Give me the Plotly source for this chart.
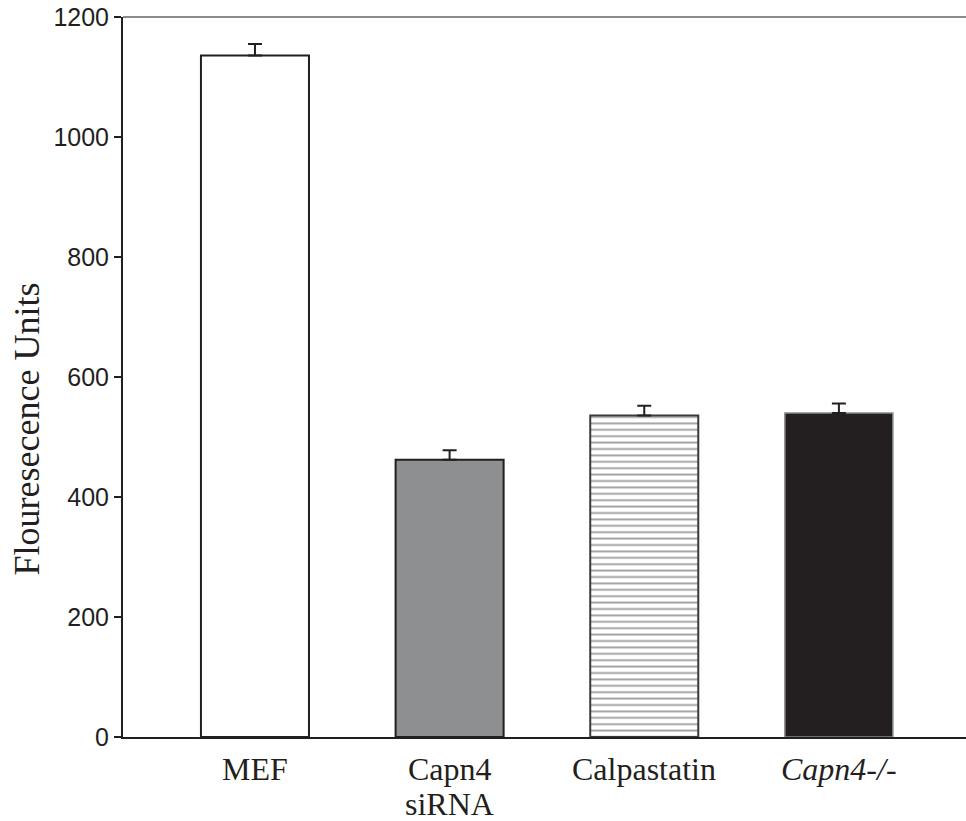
import plotly.graph_objects as go

categories = ["MEF", "Capn4 siRNA", "Calpastatin", "Capn4-/-"]
label_lines = [["MEF"], ["Capn4", "siRNA"], ["Calpastatin"], ["<i>Capn4-/-</i>"]]
values = [1136, 462, 536, 540]
errors = [19, 16, 16, 16]
y_ticks = [0, 200, 400, 600, 800, 1000, 1200]
y_title = "Flouresecence Units"

INK = "#231f20"
fills = ["#ffffff", "#8e8f91", "#ffffff", INK]
outline = [INK, INK, "#3a3a3a", "#8a8a8a"]
outline_w = [2, 2, 2, 1.5]
patterns = ["", "", "-", ""]

fig = go.Figure()
fig.add_trace(go.Bar(
    x=categories,
    y=values,
    width=0.555,
    marker=dict(
        color=fills,
        line=dict(color=outline, width=outline_w),
        pattern=dict(shape=patterns, size=6.4, solidity=0.3,
                     fgcolor="#000000", bgcolor="#ffffff", fillmode="overlay"),
    ),
    error_y=dict(type="data", symmetric=False, array=errors,
                 arrayminus=[0] * len(errors), color=INK, thickness=2, width=7),
    showlegend=False,
))

annotations = [dict(
    text=y_title, textangle=-90, xref="paper", yref="paper",
    x=-0.1139, y=0.4285, xanchor="center", yanchor="middle", showarrow=False,
    font=dict(family="Liberation Serif", size=36, color=INK),
)]
for cat, lines in zip(categories, label_lines):
    for i, line in enumerate(lines):
        annotations.append(dict(
            text=line, xref="x", yref="paper", x=cat, y=0,
            xanchor="center", yanchor="top", yshift=-12 - 35 * i, showarrow=False,
            font=dict(family="Liberation Serif", size=32, color=INK),
        ))

fig.update_layout(
    width=966, height=821,
    margin=dict(l=123, r=0, t=17, b=84),
    paper_bgcolor="white", plot_bgcolor="white",
    annotations=annotations,
    shapes=[dict(type="line", xref="paper", yref="paper", x0=0, x1=1, y0=1, y1=1,
                 line=dict(color="#8c8c8c", width=2))],
    xaxis=dict(
        range=[-0.678, 3.653], showticklabels=False, ticks="",
        showline=True, linecolor=INK, linewidth=2, showgrid=False, zeroline=False,
    ),
    yaxis=dict(
        range=[0, 1200], tickvals=y_ticks, ticks="outside", ticklen=7, tickwidth=2,
        tickcolor=INK, showline=True, linecolor=INK, linewidth=2, showgrid=False,
        zeroline=False, tickfont=dict(family="Liberation Sans", size=25, color=INK),
    ),
)

# remove the browser's default 8px body margin so the figure fills the window
fig.write_html("out.html", config={"displayModeBar": False},
               post_script="document.body.style.margin='0';")
